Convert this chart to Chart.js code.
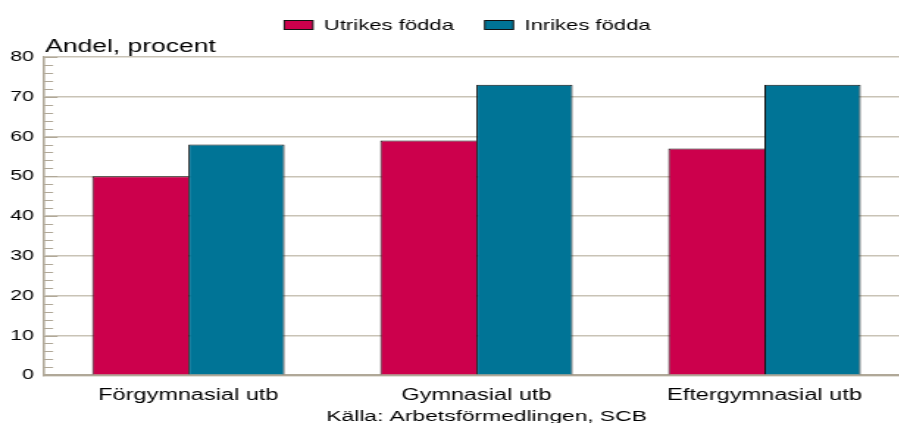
<!DOCTYPE html>
<html>
<head>
<meta charset="utf-8">
<script src="https://cdn.jsdelivr.net/npm/chart.js@4"></script>
<style>
html, body { margin: 0; padding: 0; background: #fff; overflow: hidden; }
#wrap { width: 899px; height: 423px; overflow: hidden; }
/* the reference is stretched sideways, so draw narrow and scale */
#c { transform: scaleX(1.47); transform-origin: 0 0; }
</style>
</head>
<body>
<div id="wrap"><canvas id="c" width="620" height="423"></canvas></div>
<script>
'use strict';

const categories  = ['Förgymnasial utb', 'Gymnasial utb', 'Eftergymnasial utb'];
const seriesNames = ['Utrikes födda', 'Inrikes födda'];
const utrikes     = [50, 59, 57];
const inrikes     = [58, 73, 73];
const yTicks      = [0, 10, 20, 30, 40, 50, 60, 70, 80];
const yTitle      = 'Andel, procent';
const source      = 'Källa: Arbetsförmedlingen, SCB';

const FONT = "'Liberation Sans', Arial, sans-serif";
const AXIS = '#b0a898';
const GRID = '#c9c3b6';
const EDGE = '#111111';

const extras = {
    id: 'extras',
    afterDraw(chart) {
        const { ctx, chartArea } = chart;
        const y = chart.scales.y;
        ctx.save();

        // small ticks pointing into the plot, every 2 units
        ctx.strokeStyle = AXIS;
        ctx.lineWidth = 1;
        for (let v = y.min; v <= y.max; v += 2) {
            const py = Math.round(y.getPixelForValue(v)) + 0.5;
            const len = v % 10 === 0 ? 9 : 6;
            ctx.beginPath();
            ctx.moveTo(chartArea.left, py);
            ctx.lineTo(chartArea.left + len, py);
            ctx.stroke();
        }

        ctx.fillStyle = '#000';
        ctx.textBaseline = 'alphabetic';

        ctx.font = `18px ${FONT}`;
        ctx.textAlign = 'left';
        ctx.fillText(yTitle, chartArea.left + 0.5, 51.5);

        ctx.font = `15.5px ${FONT}`;
        ctx.textAlign = 'center';
        ctx.fillText(source, 331, 421);

        // legend
        ctx.font = `15px ${FONT}`;
        const boxW = 19.5, boxH = 9, gap = 7.5, itemGap = 21;
        ctx.textAlign = 'left';
        const items = chart.data.datasets.map(ds => ({
            label: ds.label, color: ds.backgroundColor,
            w: boxW + gap + ctx.measureText(ds.label).width,
        }));
        const total = items.reduce((s, it) => s + it.w, 0) + itemGap * (items.length - 1);
        let x = 318 - total / 2;
        items.forEach(it => {
            ctx.fillStyle = it.color;
            ctx.fillRect(x, 20.5, boxW, boxH);
            ctx.strokeStyle = EDGE;
            ctx.lineWidth = 1;
            ctx.strokeRect(x, 20.5, boxW, boxH);
            ctx.fillStyle = '#000';
            ctx.fillText(it.label, x + boxW + gap, 29.5);
            x += it.w + itemGap;
        });

        ctx.restore();
    }
};

new Chart(document.getElementById('c'), {
    type: 'bar',
    data: {
        labels: categories,
        datasets: [
            {
                label: seriesNames[0], data: utrikes,
                backgroundColor: '#CC004C', borderColor: EDGE,
                borderWidth: { top: 1, left: 1, right: 0, bottom: 0 },
            },
            {
                label: seriesNames[1], data: inrikes,
                backgroundColor: '#007496', borderColor: EDGE,
                borderWidth: { top: 1, left: 1, right: 1, bottom: 0 },
            }
        ]
    },
    options: {
        responsive: false, animation: false, devicePixelRatio: 1,
        categoryPercentage: 0.668, barPercentage: 1,
        layout: { padding: { top: 57, left: 0, right: 2, bottom: 6.5 } },
        plugins: { legend: { display: false }, tooltip: { enabled: false } },
        scales: {
            x: {
                grid: { display: false, drawTicks: false },
                border: { color: AXIS, width: 2 },
                ticks: { color: '#000', font: { family: FONT, size: 16 }, padding: 11 },
            },
            y: {
                min: 0, max: 80,
                afterBuildTicks: s => { s.ticks = yTicks.map(v => ({ value: v })); },
                grid: { color: GRID, lineWidth: 1.4, drawTicks: false },
                border: { color: AXIS, width: 1.6 },
                ticks: { color: '#000', font: { family: FONT, size: 14.5 }, padding: 7 },
            }
        }
    },
    plugins: [extras]
});
</script>
</body>
</html>
